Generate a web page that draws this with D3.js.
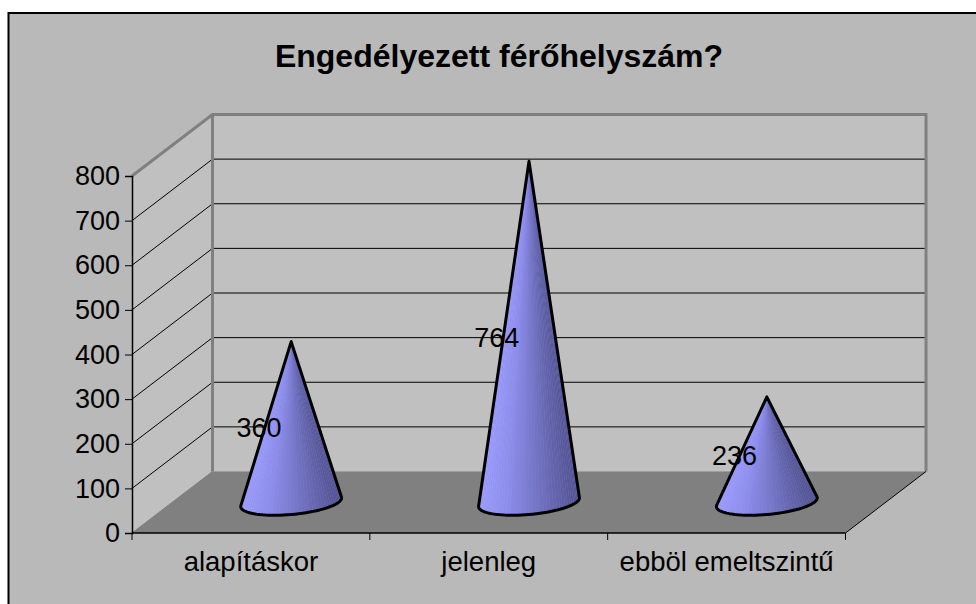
<!DOCTYPE html>
<html>
<head>
<meta charset="utf-8">
<script src="https://cdn.jsdelivr.net/npm/d3@7"></script>
<style>
html, body { margin: 0; padding: 0; background: #fff; }
svg { display: block; }
text { font-family: "Liberation Sans", Arial, sans-serif; fill: #000; }
</style>
</head>
<body>
<div id="chart"></div>
<script>
var categories = ["alapításkor", "jelenleg", "ebböl emeltszintű"]
var values = [360, 764, 236]
var yTicks = [0, 100, 200, 300, 400, 500, 600, 700, 800]
var title = "Engedélyezett férőhelyszám?"

var width = 976
var height = 604

// front plane of the 3d box, and how far the back wall is shifted
var x = d3.scaleBand().domain(categories).range([132, 845.5])
var y = d3.scaleLinear().domain([0, 800]).range([533, 176])
var depthX = 80.5
var depthY = -61.5

var svg = d3.select("#chart")
    .append("svg")
    .attr("width", width)
    .attr("height", height)

svg.append("rect")
    .attr("x", 8.5)
    .attr("y", 13)
    .attr("width", width)
    .attr("height", height)
    .attr("fill", "#b9b9b9")
    .attr("stroke", "#000")
    .attr("stroke-width", 2)

svg.append("text")
    .attr("x", 499)
    .attr("y", 67)
    .attr("text-anchor", "middle")
    .attr("font-size", 32)
    .attr("font-weight", "bold")
    .text(title)

var x0 = x.range()[0]
var x1 = x.range()[1]
var y0 = y(0)
var yTop = y(800)

// walls and floor
svg.append("polygon")
    .attr("points", [[x0, yTop], [x0 + depthX, yTop + depthY], [x0 + depthX, y0 + depthY], [x0, y0]].join(" "))
    .attr("fill", "#c0c0c0")
svg.append("rect")
    .attr("x", x0 + depthX)
    .attr("y", yTop + depthY)
    .attr("width", x1 - x0)
    .attr("height", y0 - yTop)
    .attr("fill", "#c0c0c0")
svg.append("polygon")
    .attr("points", [[x0, y0], [x0 + depthX, y0 + depthY], [x1 + depthX, y0 + depthY], [x1, y0]].join(" "))
    .attr("fill", "#808080")

// gridlines, side wall then back wall
var gridTicks = yTicks.slice(1, -1)
svg.append("g").selectAll("path")
    .data(gridTicks)
    .join("path")
    .attr("d", d => "M" + x0 + "," + y(d) + "L" + (x0 + depthX) + "," + (y(d) + depthY) + "H" + (x1 + depthX))
    .attr("fill", "none")
    .attr("stroke", "#000")
    .attr("stroke-width", 1)
svg.append("path")
    .attr("d", "M" + x0 + "," + yTop + "L" + (x0 + depthX) + "," + (yTop + depthY) + "H" + (x1 + depthX) + "V" + (y0 + depthY))
    .attr("fill", "none")
    .attr("stroke", "#808080")
    .attr("stroke-width", 3)
svg.append("line")
    .attr("x1", x0 + depthX)
    .attr("x2", x0 + depthX)
    .attr("y1", yTop + depthY)
    .attr("y2", y0 + depthY)
    .attr("stroke", "#808080")
    .attr("stroke-width", 3)
svg.append("line")
    .attr("x1", x0)
    .attr("y1", y0)
    .attr("x2", x0 + depthX)
    .attr("y2", y0 + depthY)
    .attr("stroke", "#808080")
svg.append("line")
    .attr("x1", x1)
    .attr("y1", y0)
    .attr("x2", x1 + depthX)
    .attr("y2", y0 + depthY)
    .attr("stroke", "#000")

// cones sit in the middle of the box depth
var baseA = x.bandwidth() * 0.2
var shade = d3.scaleLinear().domain([-1, -0.4, 1]).range(["#9f9fff", "#8c8ce8", "#50508a"])

function basePoint(cx, cy, t) {
    return [cx + baseA * Math.cos(t) + 16.8 * Math.sin(t), cy - 13 * Math.sin(t)]
}

function conePaths(cat, value) {
    var cx = x(cat) + x.bandwidth() / 2 + depthX / 2
    var cy = y0 + depthY / 2
    var apex = [cx, y(value) + depthY / 2]
    var samples = d3.range(0, 720).map(i => i / 720 * 2 * Math.PI)
    // silhouette points of the base seen from the apex
    var angle = t => {
        var p = basePoint(cx, cy, t)
        return Math.atan2(p[0] - apex[0], p[1] - apex[1])
    }
    var tLeft = samples.reduce((a, b) => angle(b) < angle(a) ? b : a)
    var tRight = samples.reduce((a, b) => angle(b) > angle(a) ? b : a)
    if (tRight < tLeft) tRight += 2 * Math.PI
    var n = 44
    var arc = d3.range(n + 1).map(i => basePoint(cx, cy, tLeft + (tRight - tLeft) * i / n))
    return { apex: apex, arc: arc, cx: cx }
}

var cones = svg.append("g").selectAll("g")
    .data(categories.map((c, i) => ({ cat: c, value: values[i], geo: conePaths(c, values[i]) })))
    .join("g")

cones.append("path")
    .attr("d", d => "M" + d.geo.apex + "L" + d.geo.arc.join("L") + "Z")
    .attr("fill", "#8585e0")

cones.each(function (d) {
    var g = d3.select(this)
    var arc = d.geo.arc
    g.selectAll("polygon")
        .data(d3.range(arc.length - 1))
        .join("polygon")
        .attr("points", i => [d.geo.apex, arc[i], arc[i + 1]].join(" "))
        .attr("fill", i => shade(((arc[i][0] + arc[i + 1][0]) / 2 - d.geo.cx) / baseA))
        .attr("fill-opacity", 0.92)
})

cones.append("path")
    .attr("d", d => "M" + d.geo.apex + "L" + d.geo.arc.join("L") + "Z")
    .attr("fill", "none")
    .attr("stroke", "#000")
    .attr("stroke-width", 3)
    .attr("stroke-linejoin", "round")

// axes
var yAxis = d3.axisLeft(y).tickValues(yTicks).tickSize(7).tickPadding(5)
var yG = svg.append("g").attr("transform", "translate(" + x0 + ",0)").call(yAxis)
yG.select(".domain").attr("stroke", "#000").attr("stroke-width", 1.5)
yG.selectAll("text")
    .attr("font-size", 27)
    .attr("font-family", "Liberation Sans")

var xAxis = d3.axisBottom(x).tickSize(0).tickPadding(18)
var xG = svg.append("g").attr("transform", "translate(0," + y0 + ")").call(xAxis)
xG.select(".domain").remove()
xG.selectAll("text")
    .attr("font-size", 27.5)
    .attr("font-family", "Liberation Sans")

svg.append("line")
    .attr("x1", x0)
    .attr("x2", x1)
    .attr("y1", y0)
    .attr("y2", y0)
    .attr("stroke", "#000")
    .attr("stroke-width", 1.5)
svg.append("g").selectAll("line")
    .data(d3.range(categories.length + 1))
    .join("line")
    .attr("x1", i => x0 + i * x.step())
    .attr("x2", i => x0 + i * x.step())
    .attr("y1", y0)
    .attr("y2", y0 + 7)
    .attr("stroke", "#000")

// value labels
svg.append("g").selectAll("text")
    .data(values)
    .join("text")
    .attr("x", (d, i) => x(categories[i]) + x.bandwidth() / 2 + 8)
    .attr("y", d => y(d / 2) + depthY / 2 + 6)
    .attr("dy", "0.35em")
    .attr("text-anchor", "middle")
    .attr("font-size", 27)
    .text(d => d)
</script>
</body>
</html>
